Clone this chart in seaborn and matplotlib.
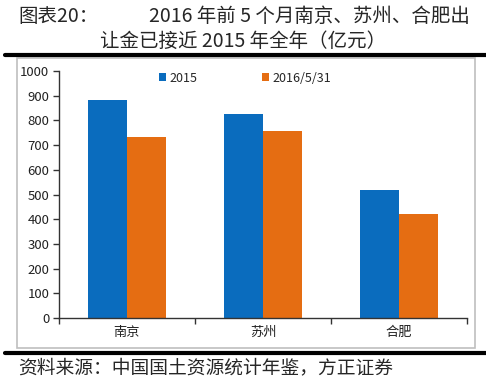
import matplotlib
matplotlib.use("Agg")
import matplotlib.pyplot as plt
import seaborn as sns
import pandas as pd
from matplotlib.patches import Rectangle
from matplotlib.lines import Line2D

cities = ["南京", "苏州", "合肥"]
series = ["2015", "2016/5/31"]
v2015 = [883, 825, 518]
v2016 = [731, 758, 421]
yticks = [0, 100, 200, 300, 400, 500, 600, 700, 800, 900, 1000]

data = pd.DataFrame({
    "city": cities * 2,
    "period": [series[0]] * 3 + [series[1]] * 3,
    "value": v2015 + v2016,
})

sns.set_style("white")
plt.rcParams["font.family"] = ["Noto Sans CJK SC", "DejaVu Sans"]

fig = plt.figure(figsize=(4.86, 3.81), dpi=100)
W, H = 486, 381

# frame around the chart and the thick report rules
fig.patches.append(Rectangle((17 / W, 1 - 348 / H), 458 / W, 290 / H,
                             transform=fig.transFigure, fill=False,
                             edgecolor="#bfbfbf", lw=1.2))
fig.lines.append(Line2D([5 / W, 1], [1 - 55 / H] * 2, transform=fig.transFigure,
                        color="black", lw=3))
fig.lines.append(Line2D([5 / W, 1], [1 - 353 / H] * 2, transform=fig.transFigure,
                        color="black", lw=3))

ax = fig.add_axes([59 / W, 1 - 318 / H, 408 / W, 247 / H])
sns.barplot(data=data, x="city", y="value", hue="period", ax=ax,
            palette=["#0a6cbe", "#e56d12"], width=0.57, saturation=1,
            dodge=True, linewidth=0)

ax.set_ylim(0, 1000)
ax.set_yticks(yticks)
ax.set_xlim(-0.5, 2.5)
ax.set_xlabel("")
ax.set_ylabel("")
ax.tick_params(axis="y", labelsize=9.5, length=4, width=1, color="#333333",
               direction="out", left=True, pad=3, labelcolor="#222222")
ax.set_xticks([0, 1, 2])
ax.set_xticklabels(cities)
ax.set_xticks([-0.5, 0.5, 1.5, 2.5], minor=True)
ax.tick_params(axis="x", which="major", length=0, labelsize=9.5, pad=6,
               labelcolor="#222222")
ax.tick_params(axis="x", which="minor", length=4, width=1, color="#333333",
               bottom=True)
for s in ["top", "right"]:
    ax.spines[s].set_visible(False)
for s in ["left", "bottom"]:
    ax.spines[s].set_color("#333333")
    ax.spines[s].set_linewidth(1)

leg = ax.legend(loc="center", bbox_to_anchor=(0.456, 1 - 7 / 247), ncol=2,
                frameon=False, fontsize=9, handlelength=0.6, handleheight=0.6,
                handletextpad=0.3, columnspacing=5.1, borderpad=0)

fig.text(18 / W, 1 - 16 / H, "图表20：", fontsize=14, va="center", ha="left")
fig.text(470 / W, 1 - 16 / H, "2016 年前 5 个月南京、苏州、合肥出",
         fontsize=14, va="center", ha="right")
fig.text(243 / W, 1 - 41 / H, "让金已接近 2015 年全年（亿元）",
         fontsize=14, va="center", ha="center")
fig.text(18 / W, 1 - 368 / H, "资料来源：中国国土资源统计年鉴，方正证券",
         fontsize=13.5, va="center", ha="left", style="italic")

fig.savefig("out.png", dpi=100)
